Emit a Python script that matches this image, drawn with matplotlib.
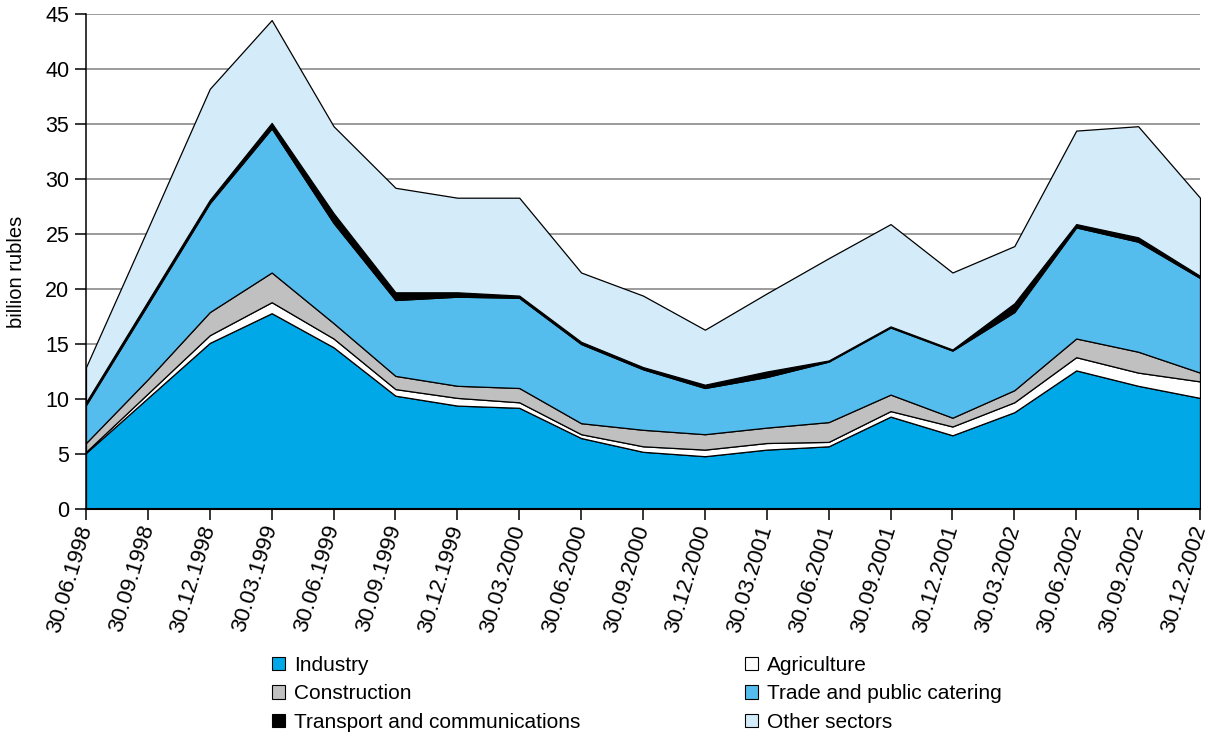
import numpy as np
import matplotlib
matplotlib.use("Agg")
import matplotlib.pyplot as plt
from matplotlib.patches import Patch

plt.rcParams['font.family'] = ['Liberation Sans', 'DejaVu Sans']

dates = ["30.06.1998", "30.09.1998", "30.12.1998", "30.03.1999", "30.06.1999",
         "30.09.1999", "30.12.1999", "30.03.2000", "30.06.2000", "30.09.2000",
         "30.12.2000", "30.03.2001", "30.06.2001", "30.09.2001", "30.12.2001",
         "30.03.2002", "30.06.2002", "30.09.2002", "30.12.2002"]

# billion rubles
industry = [5.1, 10.1, 15.1, 17.8, 14.7, 10.3, 9.4, 9.2, 6.45, 5.2,
            4.8, 5.4, 5.7, 8.4, 6.7, 8.8, 12.6, 11.2, 10.1]
agriculture = [0.1, 0.4, 0.7, 1.0, 0.8, 0.6, 0.7, 0.5, 0.35, 0.5,
               0.6, 0.6, 0.4, 0.5, 0.8, 0.9, 1.2, 1.2, 1.5]
construction = [0.8, 1.3, 2.1, 2.7, 1.4, 1.2, 1.1, 1.3, 1.0, 1.5,
                1.4, 1.4, 1.8, 1.5, 0.8, 1.1, 1.7, 1.9, 0.8]
trade = [3.45, 6.8, 9.9, 13.1, 9.1, 6.9, 8.1, 8.2, 7.2, 5.5,
         4.2, 4.6, 5.5, 6.1, 6.1, 7.1, 10.1, 10.0, 8.6]
transport = [0.25, 0.3, 0.3, 0.5, 0.9, 0.7, 0.4, 0.2, 0.2, 0.2,
             0.3, 0.5, 0.1, 0.1, 0.1, 0.8, 0.3, 0.4, 0.2]
other = [3.2, 6.6, 10.1, 9.35, 7.9, 9.5, 8.6, 8.9, 6.3, 6.5,
         5.0, 7.1, 9.3, 9.3, 7.0, 5.2, 8.5, 10.1, 7.1]

series = [("Industry", industry, "#00a8e8"),
          ("Agriculture", agriculture, "#ffffff"),
          ("Construction", construction, "#c0c0c0"),
          ("Trade and public catering", trade, "#55bdee"),
          ("Transport and communications", transport, "#000000"),
          ("Other sectors", other, "#d4ecfa")]

fig = plt.figure(figsize=(12.18, 7.33), dpi=100)
ax = fig.add_axes([86/1218, 1 - 509/733, 1114/1218, 495/733])

x = np.arange(len(dates))
ax.stackplot(x, *[s[1] for s in series], colors=[s[2] for s in series],
             edgecolor='black', linewidth=0.9, zorder=2)

ax.set_xlim(0, len(dates) - 1)
ax.set_ylim(0, 45)
ax.set_yticks(range(0, 46, 5))
ax.yaxis.grid(True, color='#808080', linewidth=1.1, zorder=0)
ax.set_axisbelow(True)
for sp in ['top', 'right']:
    ax.spines[sp].set_visible(False)
ax.spines['left'].set_linewidth(1.1)
ax.spines['bottom'].set_linewidth(1.5)
ax.tick_params(axis='both', direction='out', length=8, width=1.1, labelsize=15.5)
ax.tick_params(axis='y', pad=4)
ax.tick_params(axis='x', pad=4)

ax.set_xticks(x)
ax.set_xticklabels(dates, rotation=73, ha='right', va='center',
                   rotation_mode='anchor', fontsize=16)
ax.set_ylabel("billion rubles", fontsize=14.5)
ax.yaxis.set_label_coords(-0.054, 0.48)

handles = {name: Patch(facecolor=c, edgecolor='black', linewidth=0.8)
           for name, _, c in series}
cols = [(["Industry", "Construction", "Transport and communications"], 272),
        (["Agriculture", "Trade and public catering", "Other sectors"], 745)]
for names, left in cols:
    fig.legend([handles[n] for n in names], names, ncol=1,
               loc='upper left', bbox_to_anchor=(left/1218, 1 - 656/733),
               frameon=False, fontsize=15, handlelength=0.6, handleheight=0.6,
               handletextpad=0.45, labelspacing=0.45,
               borderpad=0, borderaxespad=0)

fig.savefig("out.png", dpi=100)
